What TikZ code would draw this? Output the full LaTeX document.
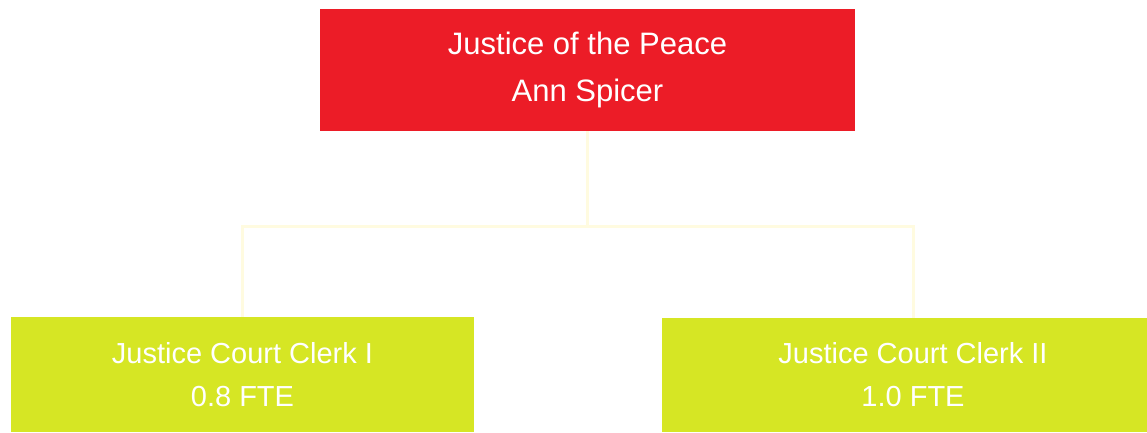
\documentclass[tikz,border=0pt]{standalone}
\usepackage{fontspec}
\setmainfont{Liberation Sans}
\definecolor{jpred}{HTML}{EC1C27}
\definecolor{clerkgreen}{HTML}{D6E624}
\definecolor{linkyellow}{HTML}{FFFBE0}
\begin{document}
\begin{tikzpicture}[x=1pt,y=1pt,
  box/.style={rectangle, inner sep=0pt, text=white, align=center},
  link/.style={draw=linkyellow, line width=3pt}]
\useasboundingbox[fill=white] (0,0) rectangle (1147,-432);
\begin{scope}
\clip (0,0) rectangle (1147,-432);
\node[box, fill=jpred, minimum width=535pt, minimum height=122pt,
  font=\fontsize{31}{47}\selectfont] (jp) at (587.5,-70)
  {Justice of the Peace\\Ann Spicer};
\node[box, fill=clerkgreen, minimum width=463pt, minimum height=115pt,
  font=\fontsize{29}{43}\selectfont] (c1) at (242.5,-374.5)
  {Justice Court Clerk I\\0.8 FTE};
\node[box, fill=clerkgreen, minimum width=502pt, minimum height=114pt,
  font=\fontsize{29}{43}\selectfont] (c2) at (913,-375)
  {Justice Court Clerk II\\1.0 FTE};
\coordinate (mid) at (587.5,-226);
\draw[link] (jp.south) -- (mid);
\draw[link] (mid) -| (c1.north);
\draw[link] (mid) -| (c2.north);
\end{scope}
\end{tikzpicture}
\end{document}
